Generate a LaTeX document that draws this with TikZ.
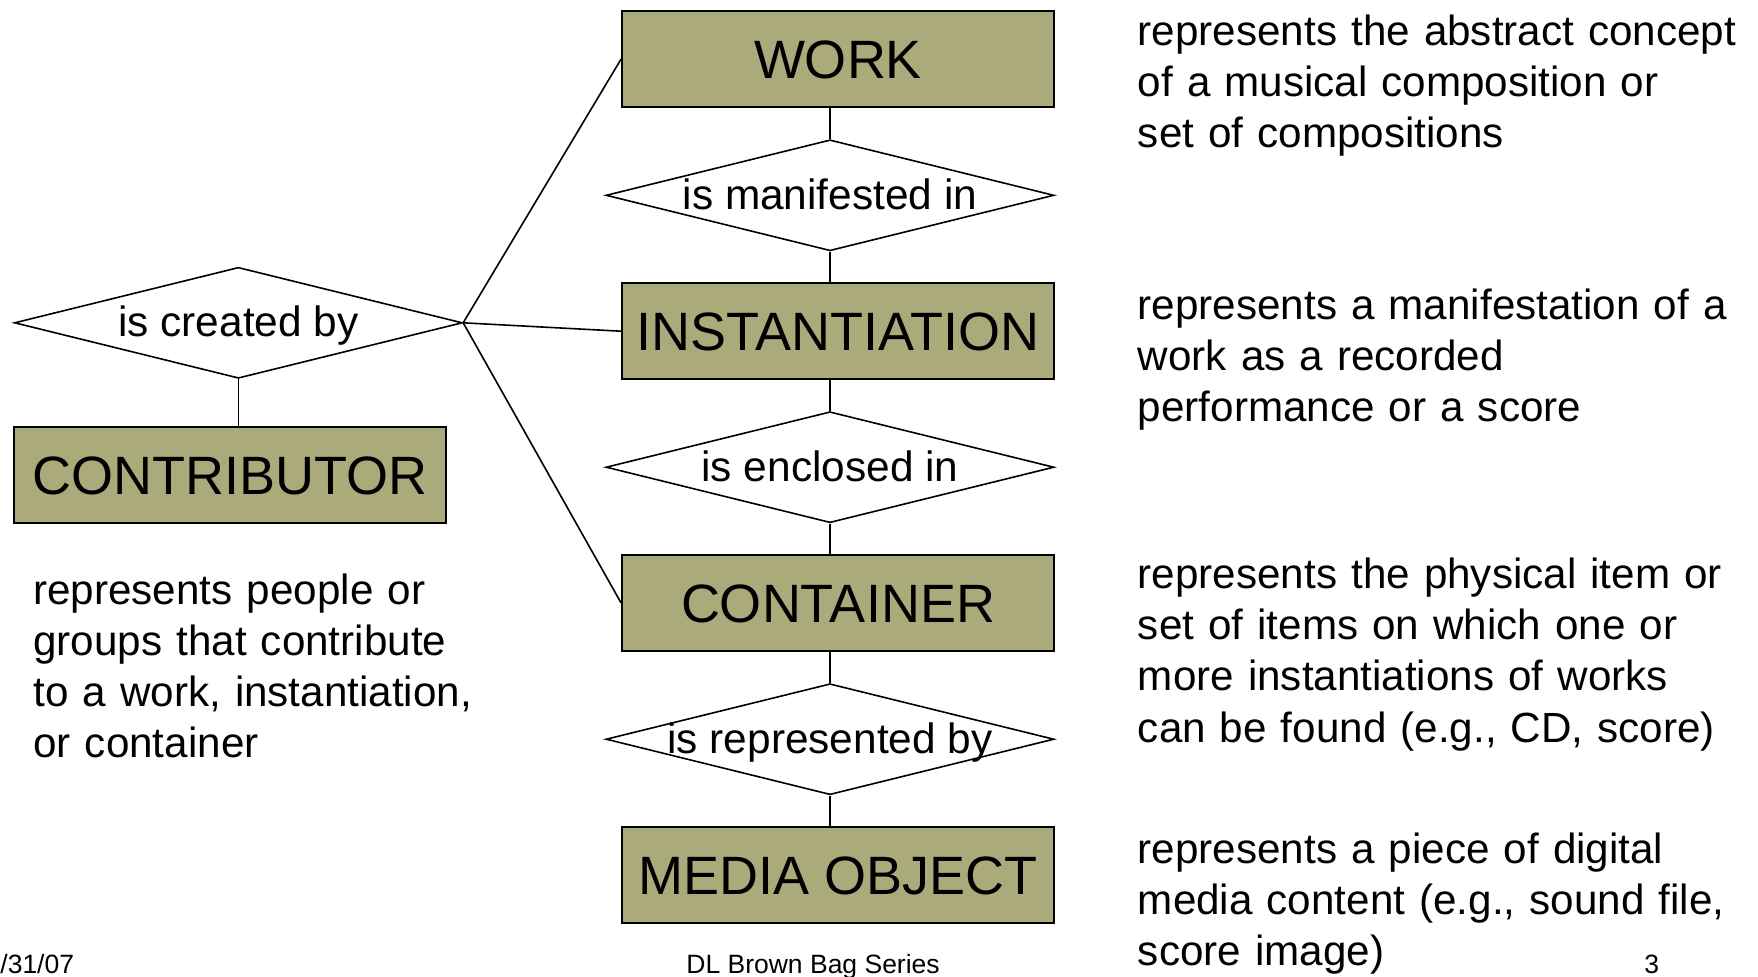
\documentclass[tikz,border=0pt]{standalone}
\usepackage{fontspec}
\setmainfont{Liberation Sans}
\usetikzlibrary{shapes.geometric}
\definecolor{boxfill}{RGB}{170,170,122}
\begin{document}
\begin{tikzpicture}[x=0.5pt,y=-0.5pt,
  entity/.style={draw=black, line width=1pt, fill=boxfill, rectangle,
    minimum width=216pt, minimum height=48pt, inner sep=0pt,
    text height=19.3pt, text depth=0pt, font=\fontsize{27pt}{32pt}\selectfont},
  relation/.style={draw=black, line width=0.8pt, fill=white, diamond,
    minimum width=224pt, minimum height=55.5pt, inner sep=0pt,
    text height=14pt, text depth=0pt, font=\fontsize{21.2pt}{25.5pt}\selectfont},
  desc/.style={anchor=base west, inner sep=0pt, align=left, text width=330pt,
    font=\fontsize{21.1pt}{25.6pt}\selectfont},
  foot/.style={anchor=base west, inner sep=0pt, font=\fontsize{13.25pt}{16pt}\selectfont},
  link/.style={draw=black, line width=0.8pt}]
\path[use as bounding box, fill=white] (0,0) rectangle (1758,976);

% entities
\node[entity] (work)    at (838,59.2)  {WORK};
\node[entity] (inst)    at (838,331.2) {INSTANTIATION};
\node[entity] (cont)    at (838,602.8) {CONTAINER};
\node[entity] (media)   at (838,875.3) {MEDIA OBJECT};
\node[entity] (contrib) at (230.2,475) {CONTRIBUTOR};

% relationships
\node[relation] (d1) at (830,195.3) {\makebox[0pt]{is manifested in}};
\node[relation] (d2) at (830,467.2) {\makebox[0pt]{is enclosed in}};
\node[relation] (d3) at (830,739.2) {\makebox[0pt]{is represented by}};
\node[relation] (dc) at (238.4,322.8) {\makebox[0pt]{is created by}};

% connectors
\draw[link] (d1.north) -- (d1.north |- work.south);
\draw[link] (d1.south) -- (d1.south |- inst.north);
\draw[link] (d2.north) -- (d2.north |- inst.south);
\draw[link] (d2.south) -- (d2.south |- cont.north);
\draw[link] (d3.north) -- (d3.north |- cont.south);
\draw[link] (d3.south) -- (d3.south |- media.north);
\draw[link] (dc.south) -- (dc.south |- contrib.north);
\draw[link] (dc.east) -- (work.west);
\draw[link] (dc.east) -- (inst.west);
\draw[link] (dc.east) -- (cont.west);

% descriptions
\node[desc] (dwork) at (1137.5,45) {represents the abstract concept\\of a musical composition or\\set of compositions};
\node[desc] (dinst) at (1137.5,319) {represents a manifestation of a\\work as a recorded\\performance or a score};
\node[desc] (dcont) at (1137.5,588.5) {represents the physical item or\\set of items on which one or\\more instantiations of works\\can be found (e.g., CD, score)};
\node[desc] (dmedia) at (1137.5,863.5) {represents a piece of digital\\media content (e.g., sound file,\\score image)};
\node[desc] (dcontrib) at (33,604) {represents people or\\groups that contribute\\to a work, instantiation,\\or container};

% footer
\node[foot] (date) at (0,973) {/31/07};
\node[foot] (series) at (686,973) {DL Brown Bag Series};
\node[foot] (page) at (1644,973) {3};
\end{tikzpicture}
\end{document}
